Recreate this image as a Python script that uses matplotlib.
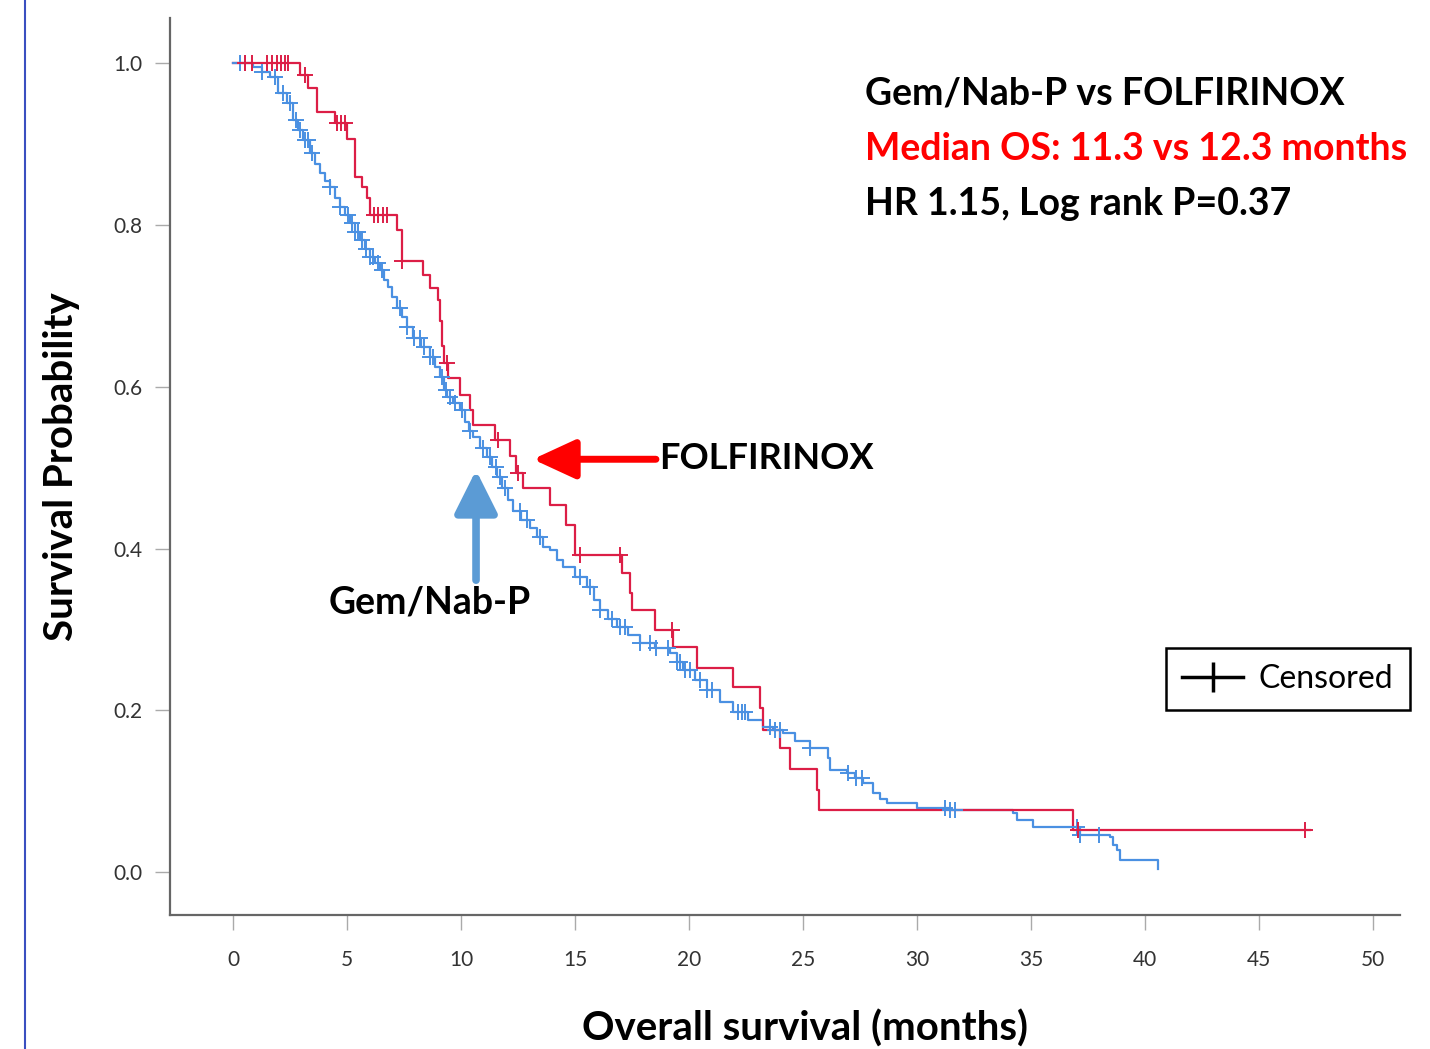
import matplotlib.pyplot as plt
import numpy as np
from matplotlib.lines import Line2D

plt.rcParams.update({"font.family": ["Lato", "DejaVu Sans"]})

# Kaplan-Meier step breakpoints (months, survival)
folfirinox_t = [0.0, 2.94, 3.30, 3.68, 4.47, 5.00, 5.35, 5.66, 5.88, 6.00, 7.20, 7.40,
                8.33, 8.64, 9.00, 9.08, 9.15, 9.25, 9.43, 9.96, 10.40, 10.53, 11.50,
                12.15, 12.40, 12.70, 13.90, 14.60, 15.00, 17.06, 17.41, 17.50, 18.51,
                19.30, 20.35, 21.93, 23.11, 23.25, 24.00, 24.43, 25.61, 25.70, 36.84, 47.24]
folfirinox_s = [1.000, 0.986, 0.969, 0.940, 0.926, 0.907, 0.859, 0.847, 0.834, 0.812, 0.794, 0.756,
                0.738, 0.722, 0.707, 0.682, 0.651, 0.629, 0.611, 0.590, 0.571, 0.553, 0.534,
                0.515, 0.494, 0.475, 0.454, 0.429, 0.392, 0.370, 0.345, 0.324, 0.300,
                0.278, 0.253, 0.229, 0.203, 0.176, 0.153, 0.127, 0.101, 0.077, 0.052, 0.052]
folfirinox_cens = [0.53, 0.83, 1.49, 1.71, 1.93, 2.11, 2.28, 2.41, 3.16, 4.56, 4.74, 4.91,
                   6.18, 6.36, 6.58, 6.75, 7.41, 9.39, 11.62, 12.50, 15.22, 16.97, 19.25,
                   37.06, 47.02]

gemnab_t = [0.0, 0.75, 0.88, 1.27, 1.62, 1.97, 2.37, 2.63, 2.85, 3.07, 3.38, 3.60, 3.82,
            4.04, 4.25, 4.47, 4.69, 4.91, 5.13, 5.35, 5.57, 5.79, 6.01, 6.23, 6.45, 6.62,
            6.80, 6.97, 7.19, 7.41, 7.63, 7.89, 8.25, 8.64, 8.86, 9.08, 9.25, 9.39, 9.65,
            9.96, 10.18, 10.35, 10.53, 10.83, 11.14, 11.36, 11.58, 11.80, 12.06, 12.28,
            12.63, 13.03, 13.33, 13.60, 13.90, 14.21, 14.47, 15.00, 15.53, 15.83, 16.10,
            16.45, 16.84, 17.32, 17.85, 18.50, 19.17, 19.47, 19.74, 20.26, 20.79, 21.36,
            21.93, 22.59, 23.25, 23.68, 24.12, 24.65, 25.31, 26.10, 26.18, 26.93, 27.28,
            27.63, 28.07, 28.38, 28.68, 30.00, 31.45, 34.21, 34.39, 35.09, 37.15, 38.46,
            38.60, 38.77, 38.90, 40.57]
gemnab_s = [1.000, 1.000, 0.995, 0.989, 0.983, 0.963, 0.951, 0.930, 0.917, 0.905, 0.889, 0.876, 0.864,
            0.855, 0.847, 0.834, 0.822, 0.812, 0.802, 0.791, 0.781, 0.770, 0.760, 0.753, 0.744, 0.732,
            0.723, 0.711, 0.698, 0.686, 0.674, 0.661, 0.649, 0.637, 0.624, 0.612, 0.596, 0.587, 0.580,
            0.571, 0.556, 0.546, 0.538, 0.525, 0.513, 0.501, 0.488, 0.475, 0.460, 0.447,
            0.436, 0.426, 0.414, 0.402, 0.398, 0.386, 0.377, 0.365, 0.352, 0.337, 0.324,
            0.313, 0.303, 0.293, 0.283, 0.277, 0.271, 0.260, 0.250, 0.237, 0.225, 0.211,
            0.198, 0.188, 0.179, 0.176, 0.172, 0.162, 0.153, 0.141, 0.126, 0.122, 0.116,
            0.110, 0.098, 0.091, 0.085, 0.079, 0.077, 0.073, 0.064, 0.056, 0.046, 0.043,
            0.033, 0.027, 0.015, 0.004]
gemnab_cens = [0.31, 0.53, 1.27, 1.84, 2.19, 2.50, 2.76, 2.94, 3.16, 3.29, 3.46, 4.25, 4.69,
               5.04, 5.22, 5.35, 5.48, 5.66, 5.83, 6.01, 6.14, 6.36, 6.54, 7.32, 7.63, 7.94,
               8.20, 8.38, 8.64, 8.77, 9.17, 9.34, 9.52, 9.74, 10.04, 10.39, 10.96, 11.27,
               11.54, 11.71, 11.93, 12.59, 12.89, 13.46, 15.22, 15.66, 16.10, 16.62, 16.97,
               17.19, 17.85, 18.29, 18.55, 19.08, 19.47, 19.60, 19.82, 20.04, 20.48, 20.79,
               21.00, 22.15, 22.32, 22.46, 23.55, 23.77, 23.99, 25.31, 26.97, 27.32, 27.59,
               31.23, 31.45, 31.67, 37.00, 37.15, 38.00]

x_ticks = list(range(0, 55, 5))
y_ticks = [0.0, 0.2, 0.4, 0.6, 0.8, 1.0]

RED = "#DC1E46"
BLUE = "#4A90E2"


def surv_at(t, times, surv):
    i = np.searchsorted(times, t, side="right") - 1
    return np.asarray(surv)[i]


fig = plt.figure(figsize=(14.3, 10.49), dpi=100)
ax = fig.add_axes([0.1189, 0.1277, 0.8601, 0.8551])

for t, s, c, cens in [(gemnab_t, gemnab_s, BLUE, gemnab_cens),
                      (folfirinox_t, folfirinox_s, RED, folfirinox_cens)]:
    ax.step(t, s, where="post", color=c, lw=1.6, zorder=3)
    ax.plot(cens, surv_at(cens, t, s), ls="none", marker="+", ms=11, mew=1.4,
            color=c, zorder=4)

ax.set_xlim(-2.76, 51.18)
ax.set_ylim(-0.053, 1.056)
ax.set_xticks(x_ticks)
ax.set_yticks(y_ticks)
ax.set_yticklabels([f"{v:.1f}" for v in y_ticks])
for side in ("top", "right"):
    ax.spines[side].set_visible(False)
for side in ("left", "bottom"):
    ax.spines[side].set_color("#666666")
    ax.spines[side].set_linewidth(1.6)
ax.tick_params(axis="both", length=11, width=1.0, color="#aaaaaa",
               labelsize=15, labelcolor="#333333")
ax.tick_params(axis="x", pad=14)
ax.tick_params(axis="y", pad=9)

ax.set_xlabel("Overall survival (months)", fontsize=29, fontweight="bold")
ax.xaxis.set_label_coords(0.516, -0.105)
ax.set_ylabel("Survival Probability", fontsize=29, fontweight="bold", labelpad=24)

# header text
ax.text(0.565, 0.916, "Gem/Nab-P vs FOLFIRINOX", transform=ax.transAxes,
        fontsize=27, fontweight="bold", va="center", ha="left")
ax.text(0.565, 0.854, "Median OS: 11.3 vs 12.3 months", transform=ax.transAxes,
        fontsize=27, fontweight="bold", va="center", ha="left", color="#ff0000")
ax.text(0.565, 0.793, "HR 1.15, Log rank P=0.37", transform=ax.transAxes,
        fontsize=27, fontweight="bold", va="center", ha="left")

# arm labels with arrows
ax.annotate("", xy=(13.15, 0.5105), xytext=(18.55, 0.5105),
            arrowprops=dict(arrowstyle="-|>,head_length=1.3,head_width=0.6",
                            mutation_scale=20, lw=5, color="#ff0000",
                            shrinkA=0, shrinkB=0))
ax.text(18.7, 0.511, "FOLFIRINOX", fontsize=26, fontweight="bold",
        va="center", ha="left")
ax.annotate("", xy=(10.66, 0.497), xytext=(10.66, 0.361),
            arrowprops=dict(arrowstyle="-|>,head_length=1.3,head_width=0.65",
                            mutation_scale=20, lw=5.5, color="#5B9BD5",
                            shrinkA=0, shrinkB=0))
ax.text(8.64, 0.334, "Gem/Nab-P", fontsize=27, fontweight="bold",
        va="center", ha="center")

handle = Line2D([0], [0], color="black", lw=2.5, marker="|", ms=22, mew=2.5)
ax.legend([handle], ["Censored"], loc="upper left", bbox_to_anchor=(0.81, 0.298),
          borderaxespad=0, fancybox=False, edgecolor="black", framealpha=1,
          fontsize=23, handlelength=1.9, handletextpad=0.5, borderpad=0.5)
ax.get_legend().get_frame().set_linewidth(1.8)

# slide edge line at the far left
fig.add_artist(Line2D([25 / 1430, 25 / 1430], [0, 1], color="#3a4fc0", lw=1.5))

fig.savefig("out.png", dpi=100)
